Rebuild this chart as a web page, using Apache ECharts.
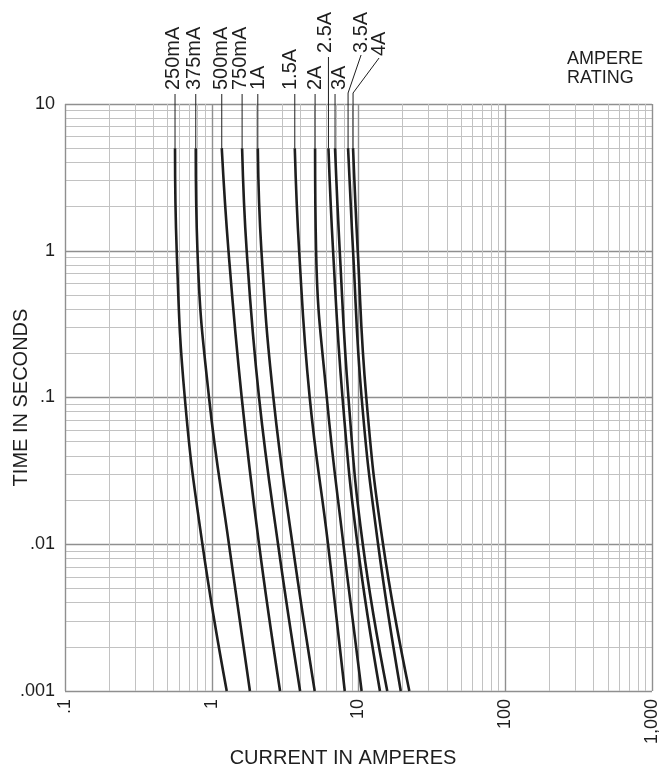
<!DOCTYPE html>
<html>
<head>
<meta charset="utf-8">
<title>Fuse time-current curves</title>
<script src="https://cdn.jsdelivr.net/npm/echarts@6/dist/echarts.min.js"></script>
<style>
  html, body { margin: 0; padding: 0; background: #fff; }
  #main { width: 659px; height: 772px; }
</style>
</head>
<body>
<div id="main"></div>
<script>
// ampere ratings, left to right
var ratings = ['250mA', '375mA', '500mA', '750mA', '1A', '1.5A', '2A', '2.5A', '3A', '3.5A', '4A'];

// time points (s) where each curve was read
var times = [5, 1, 0.1, 0.01, 0.001];

// current (A) of each curve at the time points above
var cur250mA = [0.562, 0.577, 0.655, 0.864, 1.265];
var cur375mA = [0.778, 0.799, 0.958, 1.31, 1.82];
var cur500mA = [1.17, 1.30, 1.60, 2.10, 2.92];
var cur750mA = [1.61, 1.73, 2.10, 2.83, 4.0];
var cur1A = [2.06, 2.18, 2.63, 3.55, 5.03];
var cur1_5A = [3.68, 3.94, 4.65, 6.20, 8.06];
var cur2A = [5.06, 5.14, 6.08, 7.89, 10.5];
var cur2_5A = [6.24, 6.71, 7.78, 9.84, 14.0];
var cur3A = [6.92, 7.45, 8.54, 10.7, 15.7];
var cur3_5A = [8.49, 9.18, 10.5, 13.6, 19.4];
var cur4A = [9.18, 9.88, 11.3, 14.7, 22.2];

var currents = [cur250mA, cur375mA, cur500mA, cur750mA, cur1A, cur1_5A, cur2A, cur2_5A, cur3A, cur3_5A, cur4A];

// axis ticks and their labels
var xTicks = [0.1, 1, 10, 100, 1000];
var xTickLabels = ['.1', '1', '10', '100', '1,000'];
var yTicks = [0.001, 0.01, 0.1, 1, 10];
var yTickLabels = ['.001', '.01', '.1', '1', '10'];

// where each rating label sits relative to the top of its curve (pixels)
// dx: label column offset, bottom: y of label start, kink: leader bends at y=93
var labelLayout = [
  { dx: -1.5, bottom: 90 },
  { dx: -1.2, bottom: 90 },
  { dx: 0, bottom: 90 },
  { dx: -1.8, bottom: 90 },
  { dx: 0.8, bottom: 90 },
  { dx: -4.5, bottom: 90 },
  { dx: 0, bottom: 90 },
  { dx: -3, bottom: 53 },
  { dx: 4.5, bottom: 90 },
  { dx: 13, bottom: 53, kink: true },
  { dx: 26, bottom: 56, kink: true }
];

var font = '"Liberation Sans", Arial, Helvetica, sans-serif';
var ink = '#1e1e1e';
var majorGrid = { color: '#8f8f8f', width: 1.4 };
var minorGrid = { color: '#c2c2c2', width: 1 };

function tickText(value, ticks, labels) {
  for (var i = 0; i < ticks.length; i++) {
    if (Math.abs(Math.log10(value) - Math.log10(ticks[i])) < 1e-6) return labels[i];
  }
  return '';
}

var chart = echarts.init(document.getElementById('main'));

var series = ratings.map(function (name, i) {
  return {
    name: name,
    type: 'line',
    data: times.map(function (t, k) { return [currents[i][k], t]; }),
    smooth: 0.45,
    symbol: 'none',
    lineStyle: { color: ink, width: 2.6 },
    z: 5
  };
});

var option = {
  animation: false,
  backgroundColor: '#fff',
  grid: { left: 65, top: 104, width: 587, height: 587, containLabel: false, outerBoundsMode: 'none' },
  xAxis: {
    type: 'log',
    logBase: 10,
    min: 0.1,
    max: 1000,
    splitNumber: 4,
    name: 'CURRENT IN AMPERES',
    nameLocation: 'middle',
    nameGap: 57,
    nameMoveOverlap: false,
    nameTextStyle: { fontFamily: font, fontSize: 20, color: ink, padding: [0, 31, 0, 0] },
    axisLine: { show: false },
    axisTick: { show: false },
    axisLabel: {
      rotate: 90,
      margin: 8,
      fontFamily: font,
      fontSize: 18,
      color: ink,
      formatter: function (v) { return tickText(v, xTicks, xTickLabels); }
    },
    splitLine: { show: true, lineStyle: majorGrid },
    minorTick: { show: false, splitNumber: 9 },
    minorSplitLine: { show: true, lineStyle: minorGrid }
  },
  yAxis: {
    type: 'log',
    logBase: 10,
    min: 0.001,
    max: 10,
    splitNumber: 4,
    name: 'TIME IN SECONDS',
    nameLocation: 'middle',
    nameGap: 34,
    nameMoveOverlap: false,
    nameTextStyle: { fontFamily: font, fontSize: 20, color: ink },
    axisLine: { show: false },
    axisTick: { show: false },
    axisLabel: {
      margin: 10,
      fontFamily: font,
      fontSize: 18,
      color: ink,
      formatter: function (v) { return tickText(v, yTicks, yTickLabels); }
    },
    splitLine: { show: true, lineStyle: majorGrid },
    minorTick: { show: false, splitNumber: 9 },
    minorSplitLine: { show: true, lineStyle: minorGrid }
  },
  series: series
};

chart.setOption(option);

// rating labels with their leader lines, hung off the top point of each curve
var graphics = [];
ratings.forEach(function (name, i) {
  var top = chart.convertToPixel({ gridIndex: 0 }, [currents[i][0], times[0]]);
  var lay = labelLayout[i];
  var lx = top[0] + lay.dx;
  var pts;
  if (lay.kink) {
    pts = [[top[0], top[1]], [top[0], 93], [lx, lay.bottom + 2]];
  } else {
    pts = [[top[0], top[1]], [top[0], lay.bottom + 4]];
  }
  graphics.push({
    type: 'polyline',
    shape: { points: pts },
    style: { stroke: ink, lineWidth: 1, fill: null },
    z: 10
  });
  graphics.push({
    type: 'text',
    x: lx,
    y: lay.bottom,
    rotation: Math.PI / 2,
    style: {
      text: name,
      font: '20px ' + font,
      fill: ink,
      textAlign: 'left',
      textVerticalAlign: 'middle'
    },
    z: 10
  });
});

graphics.push({
  type: 'text',
  left: 567,
  top: 50,
  style: {
    text: 'AMPERE\nRATING',
    font: '18px ' + font,
    lineHeight: 19,
    fill: ink
  }
});

chart.setOption({ graphic: graphics });
</script>
</body>
</html>
